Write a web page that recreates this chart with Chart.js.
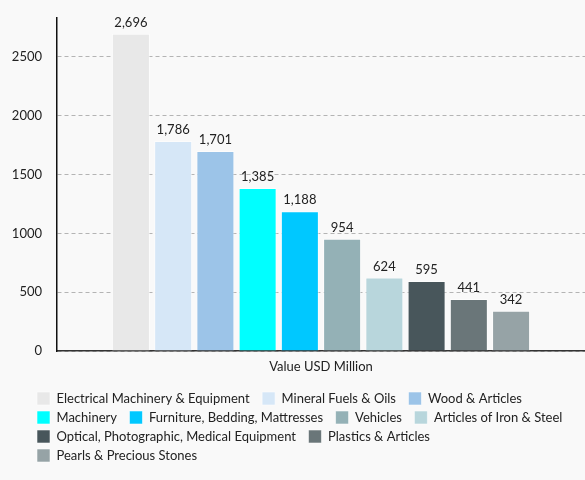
<!DOCTYPE html>
<html>
<head>
<meta charset="utf-8">
<script src="https://cdn.jsdelivr.net/npm/chart.js@4/dist/chart.umd.min.js"></script>
<style>
  html, body { margin: 0; padding: 0; background: #f9f9f9; }
  #wrap { width: 585px; height: 480px; }
</style>
</head>
<body>
<div id="wrap"><canvas id="exportsChart" width="585" height="480"></canvas></div>
<script>
// Daten
var categories = ['Value USD Million'];
var seriesNames = [
  'Electrical Machinery & Equipment',
  'Mineral Fuels & Oils',
  'Wood & Articles',
  'Machinery',
  'Furniture, Bedding, Mattresses',
  'Vehicles',
  'Articles of Iron & Steel',
  'Optical, Photographic, Medical Equipment',
  'Plastics & Articles',
  'Pearls & Precious Stones'
];
var seriesValues = [2696, 1786, 1701, 1385, 1188, 954, 624, 595, 441, 342];
var seriesColors = [
  '#e8e8e8', '#d6e7f7', '#9cc4e8', '#00ffff', '#00c8ff',
  '#94b1b6', '#b8d6dc', '#48565b', '#6a7679', '#96a3a6'
];
var yTicks = [0, 500, 1000, 1500, 2000, 2500];

var textColor = '#222222';
var fontFamily = 'Lato, "Open Sans", sans-serif';

// Werte über den Balken
var valueLabels = {
  id: 'valueLabels',
  afterDatasetsDraw: function (chart) {
    var ctx = chart.ctx;
    ctx.save();
    ctx.font = '13px ' + fontFamily;
    ctx.fillStyle = textColor;
    ctx.textAlign = 'center';
    ctx.textBaseline = 'alphabetic';
    chart.data.datasets.forEach(function (ds, i) {
      var meta = chart.getDatasetMeta(i);
      meta.data.forEach(function (bar, j) {
        var v = ds.data[j];
        ctx.fillText(v.toLocaleString('en-US'), bar.x, bar.y - 7);
      });
    });
    ctx.restore();
  }
};

// Legende etwas nach rechts einrücken
var legendIndent = {
  id: 'legendIndent',
  afterLayout: function (chart) {
    if (chart.legend) {
      chart.legend.left += 19;
      chart.legend.right += 19;
    }
  }
};

var datasets = seriesNames.map(function (name, i) {
  return {
    label: name + '\u2002',
    data: [seriesValues[i]],
    backgroundColor: seriesColors[i],
    borderColor: 'rgba(255,255,255,0.55)',
    borderWidth: 1
  };
});

Chart.defaults.font.family = fontFamily;
Chart.defaults.color = textColor;

var chart = new Chart(document.getElementById('exportsChart'), {
  type: 'bar',
  data: { labels: categories, datasets: datasets },
  plugins: [valueLabels, legendIndent],
  options: {
    responsive: false,
    animation: false,
    devicePixelRatio: 1,
    layout: { padding: { left: 12, right: 0, top: 18, bottom: 8 } },
    plugins: {
      tooltip: { enabled: false },
      legend: {
        position: 'bottom',
        align: 'start',
        labels: {
          boxWidth: 13,
          boxHeight: 13,
          padding: 6,
          color: textColor,
          font: { size: 13 }
        }
      }
    },
    scales: {
      x: {
        grid: { display: false, drawTicks: false },
        border: { display: true, color: '#333333', width: 1.5 },
        ticks: { padding: 8, font: { size: 13 }, color: textColor },
        afterFit: function (scale) { scale.height = 35; }
      },
      y: {
        min: 0,
        max: Math.max.apply(null, seriesValues) * 1.05,
        grid: { color: '#b4b4b4', lineWidth: 1, drawTicks: true, tickLength: 12, tickColor: 'rgba(0,0,0,0)' },
        border: { display: true, color: '#111111', width: 1.5, dash: [4, 3] },
        ticks: {
          padding: 3,
          font: { size: 13 },
          color: textColor,
          callback: function (value) { return value; }
        },
        afterBuildTicks: function (scale) {
          scale.ticks = yTicks.map(function (v) { return { value: v }; });
        },
        afterFit: function (scale) { scale.width = 45; }
      }
    }
  }
});
</script>
</body>
</html>
